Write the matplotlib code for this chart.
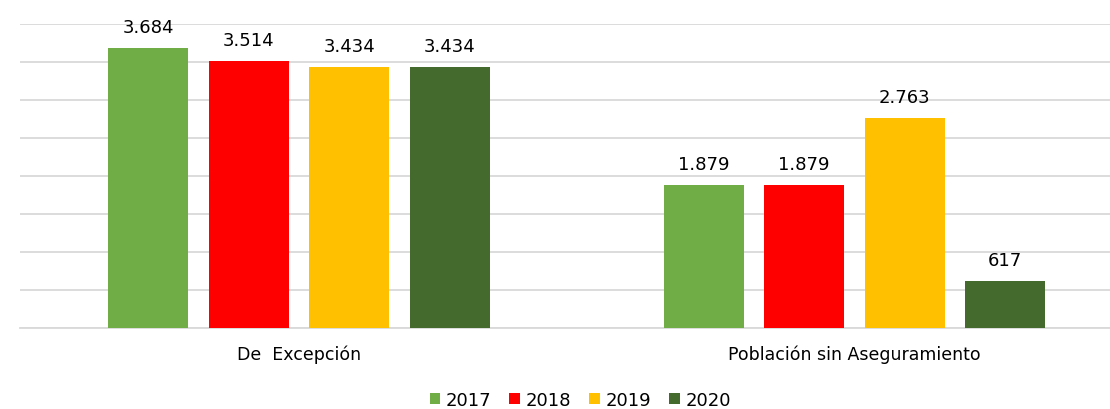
import numpy as np
import matplotlib

matplotlib.use('Agg')
import matplotlib.pyplot as plt

# Datos del grafico
categorias = ["De  Excepción", "Población sin Aseguramiento"]
anios = ["2017", "2018", "2019", "2020"]
valores_2017 = [3684, 1879]
valores_2018 = [3514, 1879]
valores_2019 = [3434, 2763]
valores_2020 = [3434, 617]

series = [valores_2017, valores_2018, valores_2019, valores_2020]
colores = ["#70AD47", "#FF0000", "#FFC000", "#446A2E"]

def fmt(v):
    # separador de miles con punto
    return "{:,}".format(v).replace(",", ".")

plt.rcParams['font.family'] = ['DejaVu Sans']

fig = plt.figure(figsize=(11.1, 4.1), dpi=100)
ax = fig.add_axes([0.018, 0.1976, 0.982, 0.7415])

x = np.arange(len(categorias))
ancho = 0.144
paso = 0.181

for i, (vals, col) in enumerate(zip(series, colores)):
    pos = x + (i - 1.5) * paso
    barras = ax.bar(pos, vals, width=ancho, color=col, label=anios[i], zorder=3)
    for b, v in zip(barras, vals):
        ax.annotate(fmt(v), (b.get_x() + b.get_width() / 2, v),
                    xytext=(0, 8.5), textcoords="offset points",
                    ha="center", va="bottom", fontsize=13, color="#000000")

ax.set_ylim(0, 4000)
ax.set_xlim(-0.502, 1.46)
ax.set_yticks(np.arange(0, 4001, 500))
ax.yaxis.grid(True, color="#D9D9D9", linewidth=1.3, zorder=0)
ax.set_yticklabels([])
ax.tick_params(axis="both", length=0)
for s in ["top", "right", "left"]:
    ax.spines[s].set_visible(False)
ax.spines["bottom"].set_color("#D9D9D9")
ax.spines["bottom"].set_linewidth(1.3)

ax.set_xticks(x)
ax.set_xticklabels(categorias, fontsize=12.5)
ax.tick_params(axis="x", pad=12)

ax.legend(loc="center", bbox_to_anchor=(0.514, -0.236), ncol=4, frameon=False,
          fontsize=13, handlelength=0.6, handleheight=0.6, handletextpad=0.3,
          columnspacing=1.0, borderpad=0)

fig.savefig("out.png", dpi=100)
